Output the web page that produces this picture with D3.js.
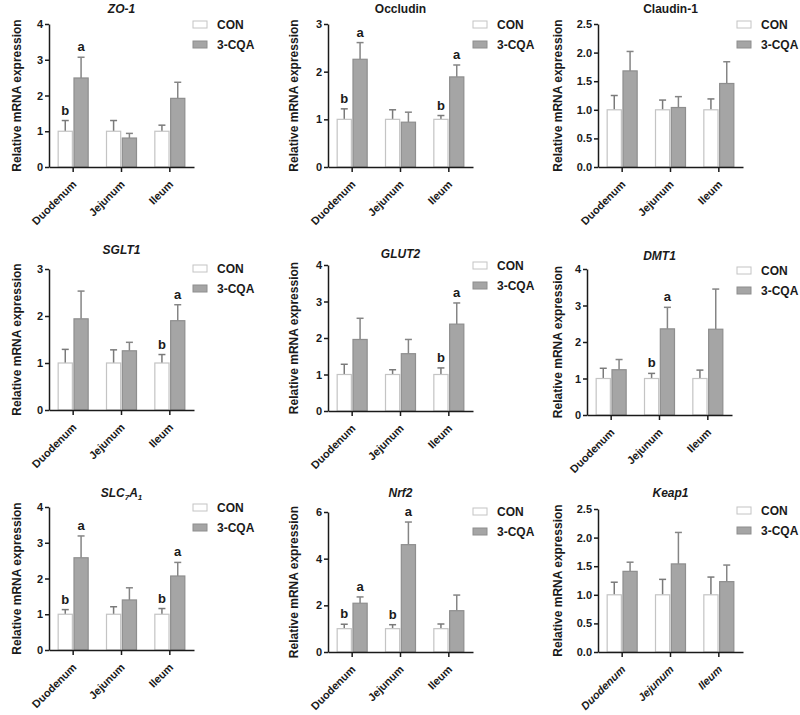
<!DOCTYPE html>
<html>
<head>
<meta charset="utf-8">
<script src="https://cdn.jsdelivr.net/npm/d3@7"></script>
<style>
  body { margin: 0; background: #fff; }
  svg { display: block; font-family: "Liberation Sans", Arial, sans-serif; }
  .axis path, .axis line { stroke: #1a1a1a; stroke-width: 1.5px; }
  .axis text { font-size: 11px; font-weight: bold; fill: #1a1a1a; }
</style>
</head>
<body>
<svg id="chart" width="800" height="715"></svg>
<script>
// categories and groups
const categories = ["Duodenum", "Jejunum", "Ileum"];
const series = ["CON", "3-CQA"];
const genes = ["ZO-1", "Occludin", "Claudin-1", "SGLT1", "GLUT2", "DMT1", "SLC7A1", "Nrf2", "Keap1"];
const italicTitle = [true, false, false, true, true, true, true, true, true];
const italicCats = [false, false, false, false, false, false, false, false, true];

// y axis range per gene
const yMax = [4, 3, 2.5, 3, 4, 4, 4, 6, 2.5];
const yStep = [1, 1, 0.5, 1, 1, 1, 1, 2, 0.5];

// CON means (normalised) and error
const conMean = [
  [1, 1, 1], [1, 1, 1], [1, 1, 1],
  [1, 1, 1], [1, 1, 1], [1, 1, 1],
  [1, 1, 1], [1, 1, 1], [1, 1, 1]
];
const conErr = [
  [0.30, 0.30, 0.17], [0.22, 0.20, 0.08], [0.25, 0.17, 0.19],
  [0.29, 0.28, 0.18], [0.28, 0.13, 0.18], [0.28, 0.14, 0.23],
  [0.13, 0.21, 0.16], [0.19, 0.17, 0.20], [0.22, 0.27, 0.31]
];
// 3-CQA means and error
const cqaMean = [
  [2.49, 0.81, 1.92], [2.26, 0.94, 1.89], [1.68, 1.04, 1.46],
  [1.94, 1.26, 1.90], [1.96, 1.57, 2.38], [1.24, 2.36, 2.35],
  [2.58, 1.40, 2.07], [2.09, 4.60, 1.77], [1.41, 1.54, 1.23]
];
const cqaErr = [
  [0.58, 0.13, 0.45], [0.35, 0.21, 0.25], [0.34, 0.19, 0.38],
  [0.59, 0.18, 0.34], [0.58, 0.39, 0.58], [0.28, 0.59, 1.10],
  [0.61, 0.34, 0.38], [0.27, 0.97, 0.67], [0.16, 0.55, 0.29]
];
// significance letters
const conLetters = [
  ["b", "", ""], ["b", "", "b"], ["", "", ""],
  ["", "", "b"], ["", "", "b"], ["", "b", ""],
  ["b", "", "b"], ["b", "b", ""], ["", "", ""]
];
const cqaLetters = [
  ["a", "", ""], ["a", "", "a"], ["", "", ""],
  ["", "", "a"], ["", "", "a"], ["", "a", ""],
  ["a", "", "a"], ["a", "a", ""], ["", "", ""]
];

// panel layout: y-axis x, top of y range, zero line, title baseline, legend top
const layout = [
  { ax: 49,  top: 24,  bottom: 167, titleY: 13,  legY: 21 },
  { ax: 328, top: 24,  bottom: 167, titleY: 13,  legY: 21 },
  { ax: 598, top: 24,  bottom: 167, titleY: 13,  legY: 21 },
  { ax: 49,  top: 269, bottom: 410, titleY: 254, legY: 265 },
  { ax: 328, top: 265, bottom: 411, titleY: 258, legY: 262 },
  { ax: 587, top: 269, bottom: 415, titleY: 260, legY: 267 },
  { ax: 49,  top: 507, bottom: 650, titleY: 497, legY: 504 },
  { ax: 328, top: 512, bottom: 652, titleY: 497, legY: 508 },
  { ax: 598, top: 509, bottom: 652, titleY: 497, legY: 507 }
];
const legendX = [193, 473, 737];
const yTitleX = [21, 298, 562];

const fillColor = { "CON": "#ffffff", "3-CQA": "#a5a5a5" };
const strokeColor = { "CON": "#c4c4c4", "3-CQA": "#8e8e8e" };
const errColor = { "CON": "#7a7a7a", "3-CQA": "#858585" };

const svg = d3.select("#chart");
const plotW = 145;

genes.forEach((gene, g) => {
  const L = layout[g];
  const col = g % 3;
  const panel = svg.append("g");

  const x0 = d3.scaleBand().domain(categories).range([L.ax, L.ax + plotW]).padding(0);
  const x1 = d3.scaleBand().domain(series).range([-15.5, 15.5]).paddingInner(0.04);
  const y = d3.scaleLinear().domain([0, yMax[g]]).range([L.bottom, L.top]);

  const rows = categories.map((c, i) => ({
    cat: c,
    vals: [
      { s: "CON", m: conMean[g][i], e: conErr[g][i], l: conLetters[g][i] },
      { s: "3-CQA", m: cqaMean[g][i], e: cqaErr[g][i], l: cqaLetters[g][i] }
    ]
  }));

  const grp = panel.selectAll("g.cat").data(rows).enter().append("g")
    .attr("class", "cat")
    .attr("transform", d => `translate(${x0(d.cat) + x0.bandwidth() / 2},0)`);

  const item = grp.selectAll("g.bar").data(d => d.vals).enter().append("g").attr("class", "bar");

  // error bars (upper only)
  item.append("line")
    .attr("x1", d => x1(d.s) + x1.bandwidth() / 2)
    .attr("x2", d => x1(d.s) + x1.bandwidth() / 2)
    .attr("y1", d => y(d.m))
    .attr("y2", d => y(d.m + d.e))
    .attr("stroke", d => errColor[d.s]).attr("stroke-width", 1.5);
  item.append("line")
    .attr("x1", d => x1(d.s) + x1.bandwidth() / 2 - 3.5)
    .attr("x2", d => x1(d.s) + x1.bandwidth() / 2 + 3.5)
    .attr("y1", d => y(d.m + d.e))
    .attr("y2", d => y(d.m + d.e))
    .attr("stroke", d => errColor[d.s]).attr("stroke-width", 1.5);

  item.append("rect")
    .attr("x", d => x1(d.s) + 0.5)
    .attr("width", x1.bandwidth() - 1)
    .attr("y", d => y(d.m))
    .attr("height", d => y(0) - y(d.m))
    .attr("fill", d => fillColor[d.s])
    .attr("stroke", d => strokeColor[d.s])
    .attr("stroke-width", 1.2);

  item.filter(d => d.l).append("text")
    .attr("x", d => x1(d.s) + x1.bandwidth() / 2)
    .attr("y", d => y(d.m + d.e) - 6)
    .attr("text-anchor", "middle")
    .attr("font-size", 13).attr("font-weight", "bold").attr("fill", "#1a1a1a")
    .text(d => d.l);

  // y axis
  const fmt = yStep[g] < 1 ? d3.format(".1f") : d3.format("d");
  panel.append("g").attr("class", "axis")
    .attr("transform", `translate(${L.ax},0)`)
    .call(d3.axisLeft(y).tickValues(d3.range(0, yMax[g] + yStep[g] / 2, yStep[g]))
      .tickSize(4).tickSizeOuter(0).tickPadding(2).tickFormat(fmt));

  // x axis
  const xa = panel.append("g").attr("class", "axis")
    .attr("transform", `translate(0,${L.bottom})`)
    .call(d3.axisBottom(x0).tickSize(5).tickSizeOuter(0));
  xa.selectAll("text")
    .attr("font-size", 12)
    .attr("font-style", italicCats[g] ? "italic" : "normal")
    .attr("text-anchor", "end")
    .attr("dy", null).attr("y", null)
    .attr("transform", "translate(4,18) rotate(-45)");

  // title
  const t = panel.append("text")
    .attr("x", L.ax + plotW / 2).attr("y", L.titleY)
    .attr("text-anchor", "middle")
    .attr("font-size", 12).attr("font-weight", "bold")
    .attr("font-style", italicTitle[g] ? "italic" : "normal")
    .attr("fill", "#1a1a1a");
  if (gene === "SLC7A1") {
    t.append("tspan").text("SLC");
    t.append("tspan").attr("font-size", 8).attr("dy", 3).text("7");
    t.append("tspan").attr("dy", -3).text("A");
    t.append("tspan").attr("font-size", 8).attr("dy", 3).text("1");
  } else {
    t.text(gene);
  }

  // y title
  panel.append("text")
    .attr("transform", `translate(${yTitleX[col]},${(L.top + L.bottom) / 2}) rotate(-90)`)
    .attr("text-anchor", "middle")
    .attr("font-size", 12).attr("font-weight", "bold").attr("fill", "#1a1a1a")
    .text("Relative mRNA expression");

  // legend
  const leg = panel.selectAll("g.leg").data(series).enter().append("g")
    .attr("transform", (d, i) => `translate(${legendX[col]},${L.legY + i * 20})`);
  leg.append("rect")
    .attr("width", 14).attr("height", 7)
    .attr("fill", d => fillColor[d])
    .attr("stroke", d => strokeColor[d]).attr("stroke-width", 1);
  leg.append("text")
    .attr("x", 24).attr("y", 8)
    .attr("font-size", 12).attr("font-weight", "bold").attr("fill", "#1a1a1a")
    .text(d => d);
});
</script>
</body>
</html>
